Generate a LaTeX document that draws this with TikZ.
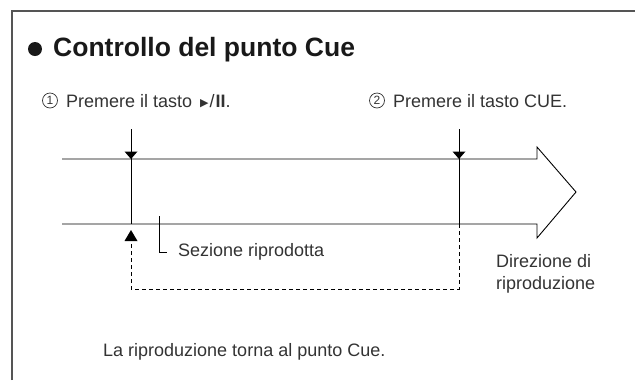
\documentclass[tikz,border=0pt]{standalone}
\usepackage{fontspec}
\setmainfont{Liberation Sans}
\newfontfamily\dvs{DejaVu Sans}
\definecolor{txt}{HTML}{333333}
\definecolor{frm}{HTML}{555555}
\begin{document}
\begin{tikzpicture}[x=1bp,y=-1bp,
  line/.style={black,line width=0.9bp},
  dline/.style={black,line width=0.9bp,dash pattern=on 4bp off 3bp},
  lbl/.style={inner sep=0pt,text=txt,font=\fontsize{18bp}{22bp}\selectfont},
  num/.style={circle,draw=txt,line width=0.7bp,inner sep=0pt,minimum size=15bp,text=txt,font=\fontsize{12bp}{12bp}\selectfont},
  tri/.style={fill=black,draw=none}]
\useasboundingbox (0,0) rectangle (635,380);
\draw[frm,line width=1.5bp] (12,380) -- (12,11) -- (635,11);
\fill[black!90] (35,49) circle (7);
\node[anchor=base west,inner sep=0pt,text=black!90,font=\fontsize{26.5bp}{30bp}\selectfont\bfseries] (title) at (53,56.5) {Controllo del punto Cue};
% steps
\node[num] (n1) at (50,100.5) {1};
\node[lbl,anchor=base west] (s1) at (66,107) {Premere il tasto\hspace{3bp} {\dvs\fontsize{11bp}{11bp}\selectfont\raisebox{0.5bp}{▶}}\hspace{1bp}/\hspace{1bp}\textbf{II}.};
\node[num] (n2) at (377,100.5) {2};
\node[lbl,anchor=base west] (s2) at (393,107) {Premere il tasto CUE.};
% main arrow
\draw[line] (62,159) -- (537,159) -- (537,147) -- (576,192) -- (537,238) -- (537,224) -- (62,224);
% markers
\coordinate (v1t) at (131,129);
\coordinate (v1a) at (131,159);
\coordinate (v1b) at (131,224);
\coordinate (v1u) at (131,241);
\coordinate (v2t) at (459,129);
\coordinate (v2a) at (459,159);
\coordinate (v2b) at (459,224);
\coordinate (c1) at (459,289);
\coordinate (c2) at (131,289);
\draw[line] (v1t) -- (v1b);
\draw[line] (v2t) -- (v2b);
\fill[tri] ([xshift=-6.5bp,yshift=7.5bp]v1a) -- ([xshift=6.5bp,yshift=7.5bp]v1a) -- (v1a) -- cycle;
\fill[tri] ([xshift=-6.5bp,yshift=7.5bp]v2a) -- ([xshift=6.5bp,yshift=7.5bp]v2a) -- (v2a) -- cycle;
\fill[tri] ([yshift=11bp]v1u) -- ([xshift=6.5bp]v1u) -- ([xshift=-6.5bp]v1u) -- cycle;
\draw[dline] (v2b) -- (c1) -- (c2) -- (v1u);
% section label
\coordinate (l1) at (159,216);
\coordinate (l2) at (159,252);
\node[lbl,anchor=west] (sez) at (178,252) {Sezione riprodotta};
\draw[line] (l1) -- (l2) -- ([xshift=-11bp]sez.west);
\node[lbl,anchor=north west,align=left] (dir) at (496,254) {Direzione di\\riproduzione};
\node[lbl,anchor=west] (bot) at (103,352) {La riproduzione torna al punto Cue.};
\end{tikzpicture}
\end{document}
